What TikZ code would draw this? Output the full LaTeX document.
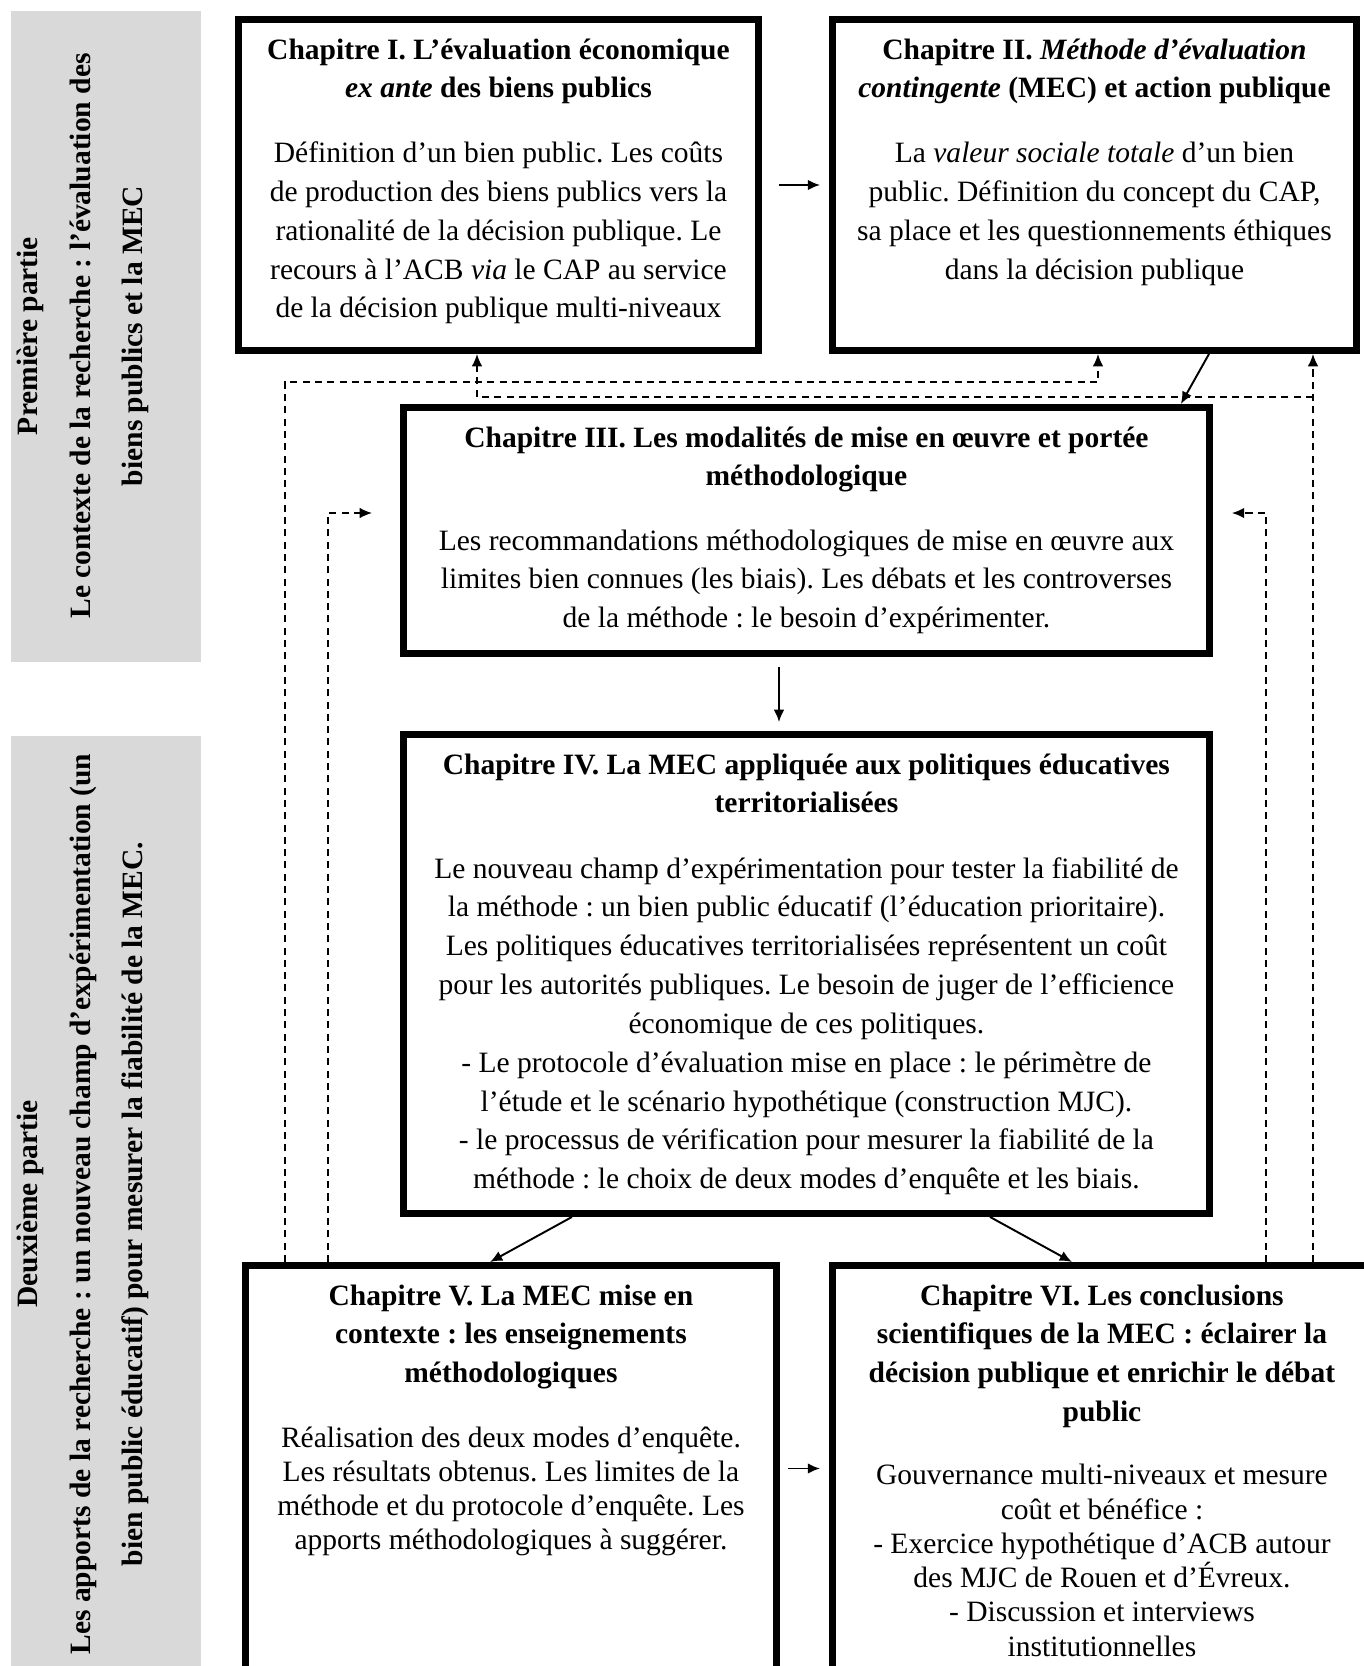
\documentclass[tikz,border=0pt]{standalone}
\usepackage{fontspec}
\setmainfont{Liberation Serif}
\usetikzlibrary{arrows.meta,calc}
\frenchspacing

\definecolor{partgray}{HTML}{D9D9D9}
% width, height, title, gap, body leading, body
\newcommand{\chapbox}[6]{\parbox[c][#2][t]{#1}{\centering\fontsize{16.8pt}{22.1pt}\selectfont
	\vspace*{10.5pt}\rule{0pt}{12pt}\textbf{#3}\par\vspace{#4}\fontsize{16.8pt}{#5}\selectfont #6\par}}

\begin{document}
\begin{tikzpicture}[x=0.02cm, y=-0.02cm,
		chap/.style={draw, line width=4pt, inner sep=0pt, anchor=north west},
		part/.style={rotate=90, align=center, font=\fontsize{16.8pt}{30pt}\selectfont\bfseries},
		arr/.style={line width=1.1pt, -{Latex[length=7pt,width=6pt]}},
		fb/.style={line width=0.9pt, dash pattern=on 4pt off 3pt, -{Latex[length=7pt,width=6pt]}}]
		\clip (0,0) rectangle (1364,1666);
		% parties
		\fill[partgray] (11,11) rectangle (201,662);
		\fill[partgray] (11,736) rectangle (201,1680);
		\node[part] (p1) at (83,336) {Première partie\\Le contexte de la recherche : l’évaluation des\\biens publics et la MEC};
		\node[part] (p2) at (83,1204) {Deuxième partie\\Les apports de la recherche : un nouveau champ d’expérimentation (un\\bien public éducatif) pour mesurer la fiabilité de la MEC.};
		% chapitres
		\node[chap] (chI) at (235,16) {\chapbox{10.40cm}{6.62cm}{Chapitre I. L’évaluation économique\\\textit{ex ante} des biens publics}{14.7pt}{22.1pt}{Définition d’un bien public. Les coûts\\de production des biens publics vers la\\rationalité de la décision publique. Le\\recours à l’ACB \textit{via} le CAP au service\\de la décision publique multi-niveaux}};
		\node[chap] (chII) at (829,16) {\chapbox{10.48cm}{6.62cm}{Chapitre II. \textit{Méthode d’évaluation}\\\textit{contingente} (MEC) et action publique}{14.7pt}{22.1pt}{La \textit{valeur sociale totale} d’un bien\\public. Définition du concept du CAP,\\sa place et les questionnements éthiques\\dans la décision publique}};
		\node[chap] (chIII) at (400,404) {\chapbox{16.12cm}{4.92cm}{Chapitre III. Les modalités de mise en œuvre et portée\\méthodologique}{14.4pt}{22.1pt}{Les recommandations méthodologiques de mise en œuvre aux\\limites bien connues (les biais). Les débats et les controverses\\de la méthode : le besoin d’expérimenter.}};
		\node[chap] (chIV) at (400,731) {\chapbox{16.12cm}{9.58cm}{Chapitre IV. La MEC appliquée aux politiques éducatives\\territorialisées}{15pt}{22.1pt}{Le nouveau champ d’expérimentation pour tester la fiabilité de\\la méthode : un bien public éducatif (l’éducation prioritaire).\\Les politiques éducatives territorialisées représentent un coût\\pour les autorités publiques. Le besoin de juger de l’efficience\\économique de ces politiques.\\- Le protocole d’évaluation mise en place : le périmètre de\\l’étude et le scénario hypothétique (construction MJC).\\- le processus de vérification pour mesurer la fiabilité de la\\méthode : le choix de deux modes d’enquête et les biais.}};
		\node[chap] (chV) at (242,1262) {\chapbox{10.62cm}{8.12cm}{Chapitre V. La MEC mise en\\contexte : les enseignements\\méthodologiques}{17.5pt}{19.3pt}{Réalisation des deux modes d’enquête.\\Les résultats obtenus. Les limites de la\\méthode et du protocole d’enquête. Les\\apports méthodologiques à suggérer.}};
		\node[chap] (chVI) at (829,1262) {\chapbox{10.78cm}{8.12cm}{Chapitre VI. Les conclusions\\scientifiques de la MEC : éclairer la\\décision publique et enrichir le débat\\public}{16.5pt}{19.5pt}{Gouvernance multi-niveaux et mesure\\coût et bénéfice :\\- Exercice hypothétique d’ACB autour\\des MJC de Rouen et d’Évreux.\\- Discussion et interviews\\institutionnelles}};
		% enchainement
		\draw[arr, shorten <=9.6pt, shorten >=5.1pt] (chI.east) -- (chII.west);
		\draw[arr] ($(chII.south west)+(380,0)$) -- ($(chIII.north east)+(-32,0)$);
		\draw[arr, shorten <=5.7pt, shorten >=5.1pt] ($(chIII.south west)+(379,0)$) -- ($(chIV.north west)+(379,0)$);
		\draw[arr] ($(chIV.south west)+(172,0)$) -- ($(chV.north west)+(248,0)$);
		\draw[arr] ($(chIV.south west)+(590,0)$) -- ($(chVI.north west)+(243,0)$);
		\draw[arr, shorten <=4.5pt, shorten >=5.1pt] (chV.east) -- (chVI.west);
		% retours
		\draw[fb] ($(chV.north west)+(43,0)$) |- ($(chII.south west)+(269,28)$) -- ($(chII.south west)+(269,0)$);
		\draw[fb] ($(chVI.north west)+(484,0)$) -- ($(chII.south west)+(484,0)$);
		\draw[fb] ($(chII.south west)+(484,43)$) -| ($(chI.south west)+(242,0)$);
		\draw[fb] ($(chV.north west)+(86,0)$) |- ($(chIII.north west)+(-28,109)$);
		\draw[fb] ($(chVI.north west)+(437,0)$) |- ($(chIII.north east)+(19,109)$);
	\end{tikzpicture}
\end{document}
